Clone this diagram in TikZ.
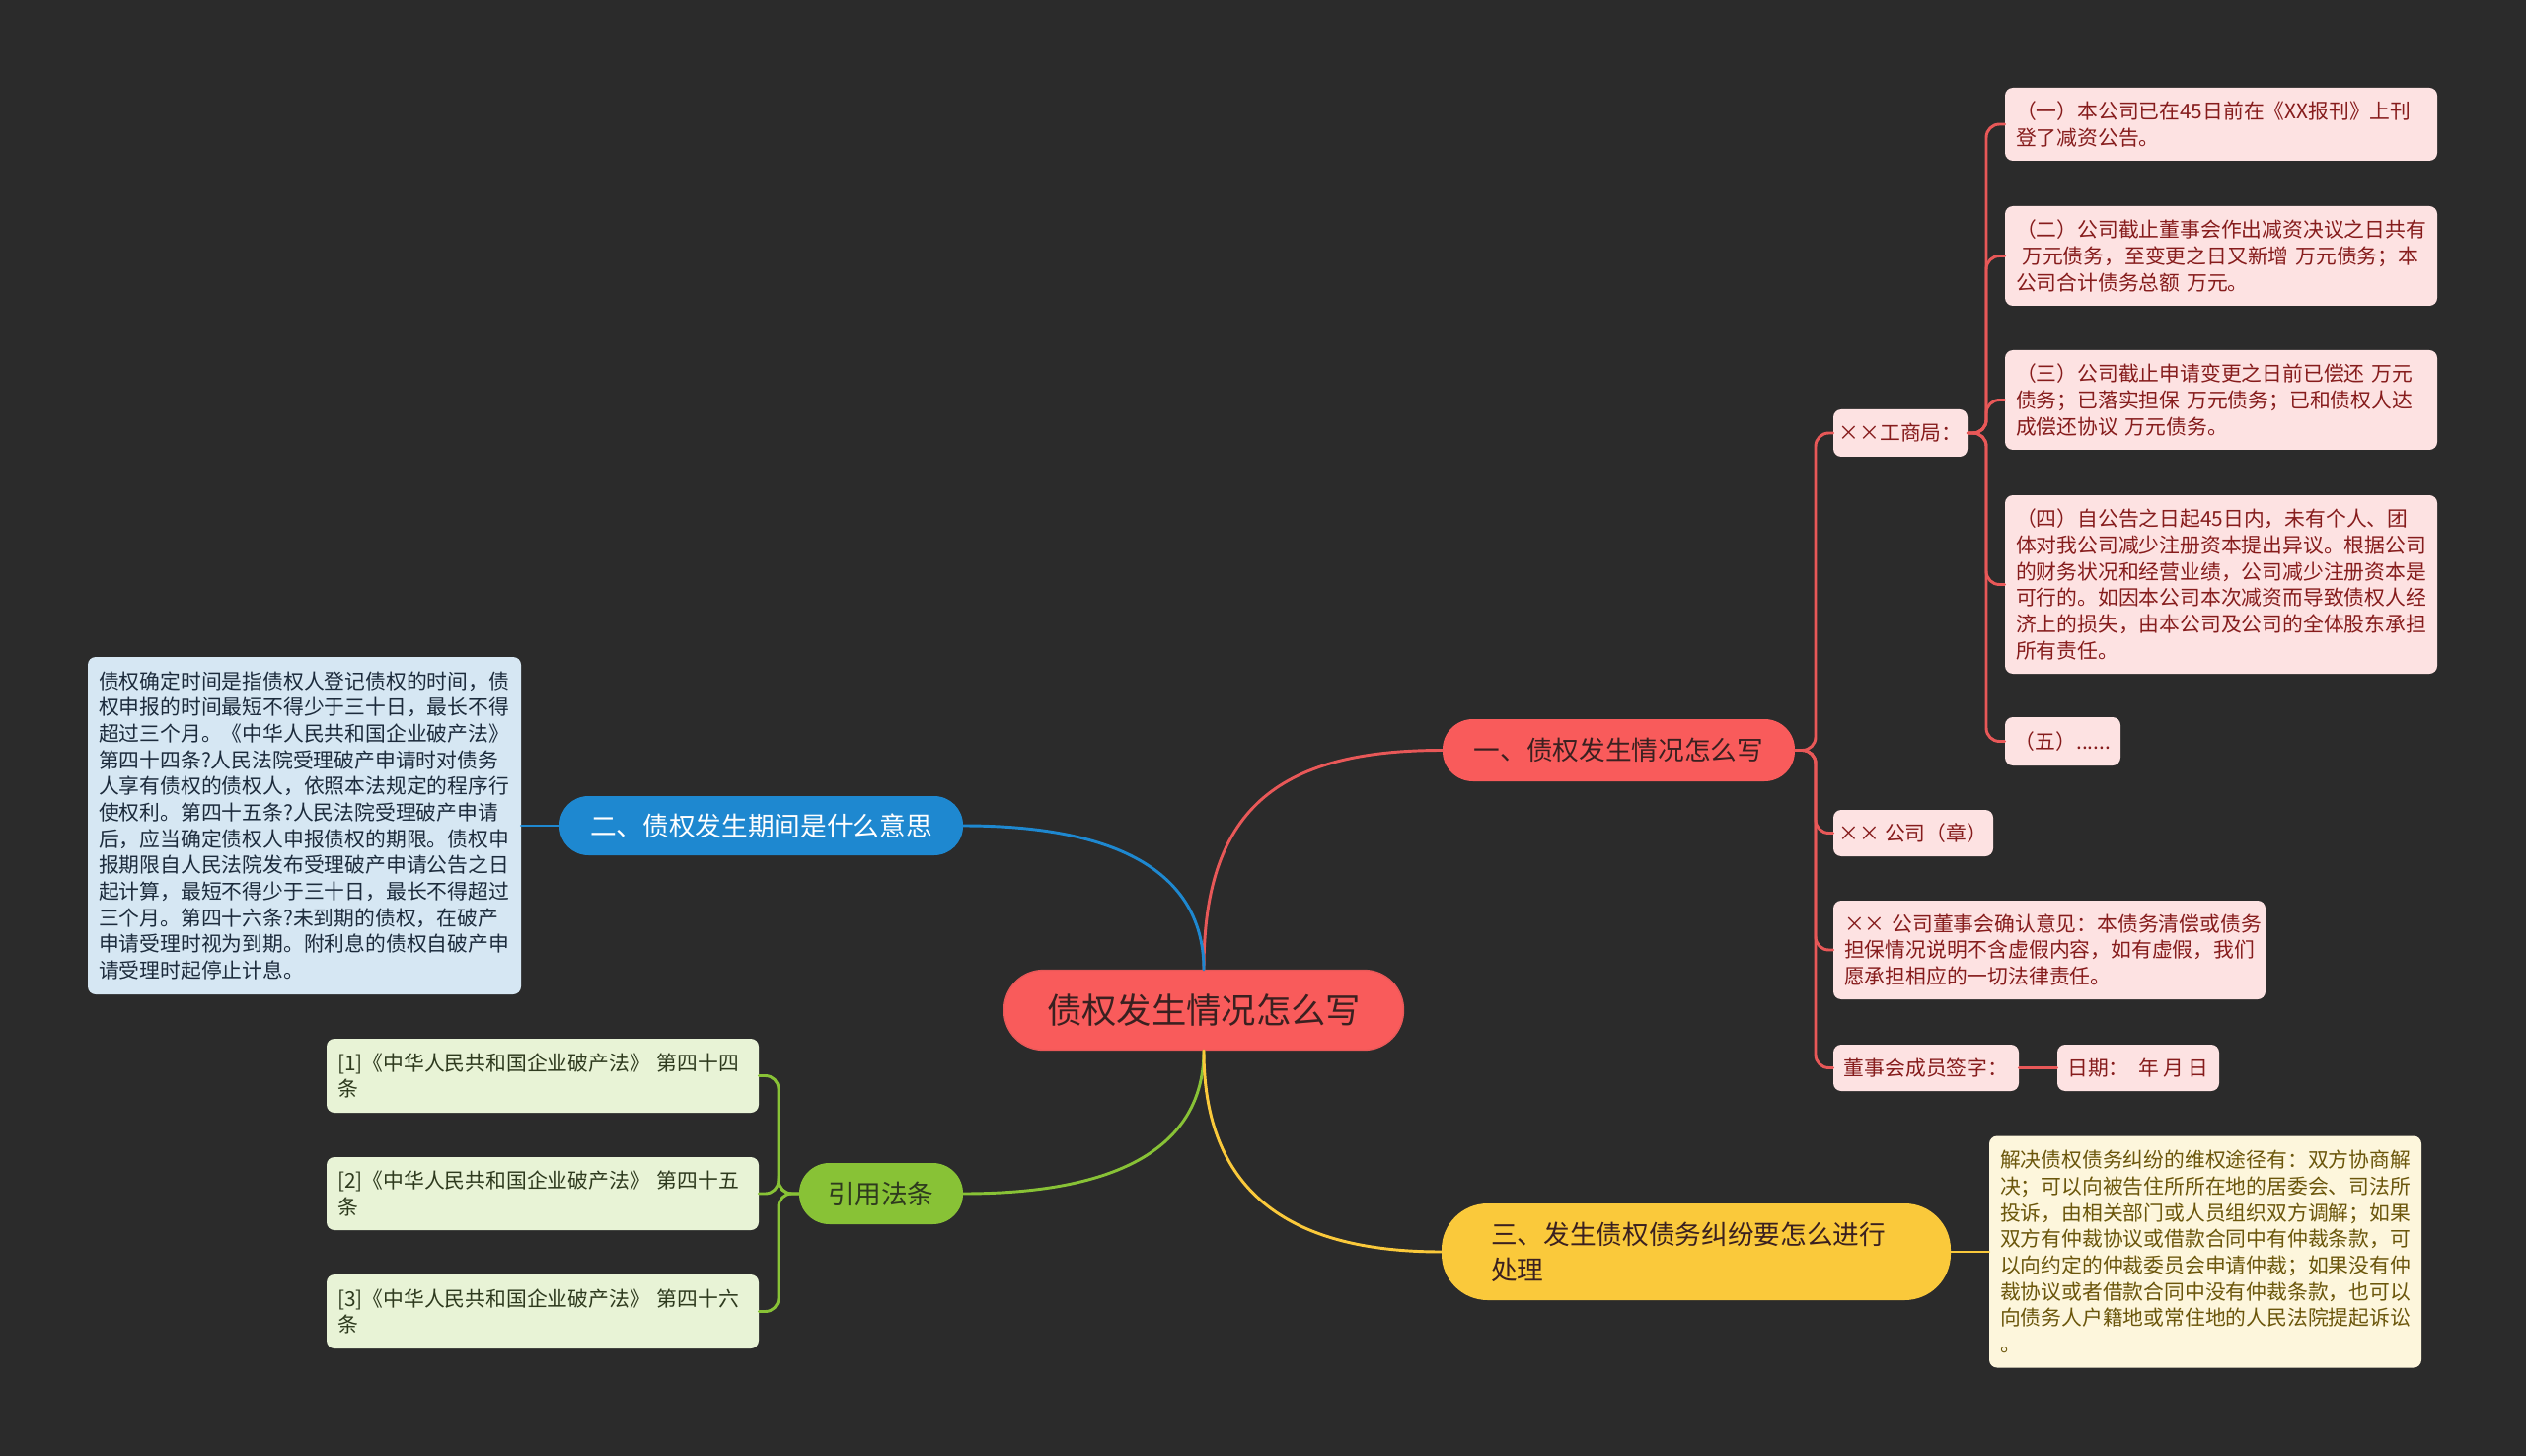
\documentclass[tikz,border=0pt]{standalone}
\usepackage{fontspec}
\setmainfont{Noto Sans CJK SC}
\definecolor{bgc}{HTML}{2B2B2B}
\definecolor{cred}{HTML}{F95B5B}
\definecolor{credline}{HTML}{E85858}
\definecolor{cblue}{HTML}{1E88D0}
\definecolor{cgreen}{HTML}{88C236}
\definecolor{cyellow}{HTML}{FAC93B}
\definecolor{pinkfill}{HTML}{FDE2E2}
\definecolor{pinktext}{HTML}{861C1C}
\definecolor{greenfill}{HTML}{E8F3D6}
\definecolor{greentext}{HTML}{2E3A1E}
\definecolor{bluefill}{HTML}{D6E7F3}
\definecolor{bluetext}{HTML}{1C2B3C}
\definecolor{yelfill}{HTML}{FDF6DC}
\definecolor{yeltext}{HTML}{6B560B}
\definecolor{darktext}{HTML}{3A2020}
\tikzset{
  x=0.75pt, y=-0.75pt,
  main/.style={rounded corners=#1, inner sep=0pt, align=center},
  sz/.style 2 args={minimum width=#1*0.75pt, minimum height=#2*0.75pt},
  leaf/.style 2 args={sz={#1}{#2}, text width=(#1-22)*0.75pt, align=left,
    rounded corners=6pt, inner sep=0pt, font=\fontsize{15.6pt}{20pt}\selectfont},
  tag/.style 2 args={sz={#1}{#2}, align=center, rounded corners=6pt, inner sep=0pt,
    font=\fontsize{15.6pt}{20pt}\selectfont},
  pink/.style={fill=pinkfill, text=pinktext},
  conn/.style={line width=2.2pt, line cap=round},
}
\begin{document}
\begin{tikzpicture}
\fill[bgc] (0,0) rectangle (2560,1476);
\useasboundingbox (0,0) rectangle (2560,1476);

% main nodes
\node[main=30pt, sz={405}{81}, fill=cred, draw=credline, line width=1pt, text=darktext,
  font=\fontsize{26.5pt}{30pt}\selectfont] (root) at (1220,1024) {债权发生情况怎么写};
\node[main=23pt, sz={357}{63}, fill=cred, text=darktext,
  font=\fontsize{20pt}{24pt}\selectfont] (n1) at (1640.5,760.5) {一、债权发生情况怎么写};
\node[main=22pt, sz={409}{60}, fill=cblue, text=white,
  font=\fontsize{20pt}{24pt}\selectfont] (n2) at (771.5,837) {二、债权发生期间是什么意思};
\node[main=35pt, sz={516}{98}, fill=cyellow, text=darktext, text width=416*0.75pt, align=left,
  font=\fontsize{20pt}{27pt}\selectfont] (n3) at (1719,1269) {三、发生债权债务纠纷要怎么进行\\处理};
\node[main=23pt, sz={166}{62}, fill=cgreen, text=greentext,
  font=\fontsize{20pt}{24pt}\selectfont] (n4) at (893,1210) {引用法条};

% red branch leaves
\node[tag={136}{48}, pink] (g) at (1926,439) {××工商局：};
\node[leaf={438}{74}, pink] (a1) at (2251,126) {（一）本公司已在45日前在《XX报刊》上刊\\登了减资公告。};
\node[leaf={438}{101}, pink] (a2) at (2251,259.5) {（二）公司截止董事会作出减资决议之日共有\\\hspace*{0.3em}万元债务，至变更之日又新增 万元债务；本\\公司合计债务总额 万元。};
\node[leaf={438}{101}, pink] (a3) at (2251,405.5) {（三）公司截止申请变更之日前已偿还 万元\\债务；已落实担保 万元债务；已和债权人达\\成偿还协议 万元债务。};
\node[leaf={438}{181}, pink] (a4) at (2251,592.5) {（四）自公告之日起45日内，未有个人、团\\体对我公司减少注册资本提出异议。根据公司\\的财务状况和经营业绩，公司减少注册资本是\\可行的。如因本公司本次减资而导致债权人经\\济上的损失，由本公司及公司的全体股东承担\\所有责任。};
\node[tag={117}{49}, pink] (a5) at (2090.5,751.5) {（五）......};
\node[tag={162}{47}, pink] (c) at (1939,844.5) {×× 公司（章）};
\node[leaf={438}{100}, pink] (d) at (2077,963) {×× 公司董事会确认意见：本债务清偿或债务\\担保情况说明不含虚假内容，如有虚假，我们\\愿承担相应的一切法律责任。};
\node[tag={188}{47}, pink] (s) at (1952,1082.5) {董事会成员签字：};
\node[tag={164}{47}, pink] (t) at (2167,1082.5) {日期：\ \ 年 月 日};

% yellow leaf
\node[leaf={438}{235}, fill=yelfill, text=yeltext] (yl) at (2235,1269) {解决债权债务纠纷的维权途径有：双方协商解\\决；可以向被告住所所在地的居委会、司法所\\投诉，由相关部门或人员组织双方调解；如果\\双方有仲裁协议或借款合同中有仲裁条款，可\\以向约定的仲裁委员会申请仲裁；如果没有仲\\裁协议或者借款合同中没有仲裁条款，也可以\\向债务人户籍地或常住地的人民法院提起诉讼\\。};

% blue leaf
\node[leaf={439}{342}, fill=bluefill, text=bluetext] (b) at (308.5,837) {债权确定时间是指债权人登记债权的时间，债\\权申报的时间最短不得少于三十日，最长不得\\超过三个月。《中华人民共和国企业破产法》\\第四十四条?人民法院受理破产申请时对债务\\人享有债权的债权人，依照本法规定的程序行\\使权利。第四十五条?人民法院受理破产申请\\后，应当确定债权人申报债权的期限。债权申\\报期限自人民法院发布受理破产申请公告之日\\起计算，最短不得少于三十日，最长不得超过\\三个月。第四十六条?未到期的债权，在破产\\申请受理时视为到期。附利息的债权自破产申\\请受理时起停止计息。};

% green leaves
\node[leaf={438}{75}, fill=greenfill, text=greentext] (l1) at (550,1090.5) {[1]《中华人民共和国企业破产法》 第四十四\\条};
\node[leaf={438}{74}, fill=greenfill, text=greentext] (l2) at (550,1210) {[2]《中华人民共和国企业破产法》 第四十五\\条};
\node[leaf={438}{75}, fill=greenfill, text=greentext] (l3) at (550,1329.5) {[3]《中华人民共和国企业破产法》 第四十六\\条};

% main connectors
\draw[conn, credline] (root.north) .. controls +(0,-160) and +(-170,0) .. (n1.west);
\draw[conn, cblue] (n2.east) .. controls +(170,0) and +(0,-90) .. (root.north);
\draw[conn, cgreen] (n4.east) .. controls +(170,0) and +(0,90) .. (root.south);
\draw[conn, cyellow] (root.south) .. controls +(0,130) and +(-170,0) .. (n3.west);

% red sub-branches
\coordinate (rj) at (1840,760.5);
\foreach \k in {g,c,d,s}{
  \draw[conn, credline, rounded corners=10pt] (n1.east) -- (rj) |- (\k.west);
}
\coordinate (gj) at (2013,439);
\foreach \k in {a1,a2,a3,a4,a5}{
  \draw[conn, credline, rounded corners=10pt] (g.east) -- (gj) |- (\k.west);
}
\draw[conn, credline] (s.east) -- (t.west);

% yellow and blue leaves
\draw[conn, cyellow] (n3.east) -- (yl.west);
\draw[conn, cblue] (n2.west) -- (b.east);

% green sub-branches
\coordinate (lj) at (789,1210);
\foreach \k in {l1,l2,l3}{
  \draw[conn, cgreen, rounded corners=10pt] (n4.west) -- (lj) |- (\k.east);
}
\end{tikzpicture}
\end{document}
